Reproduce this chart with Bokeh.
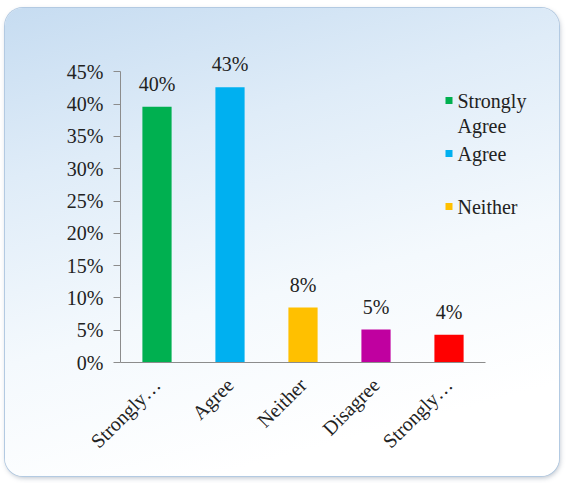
import math
from bokeh.plotting import figure
from bokeh.models import (ColumnDataSource, Range1d, FixedTicker, NumeralTickFormatter,
                          Label, BoxAnnotation)
from bokeh.core.properties import value
from bokeh.embed import file_html
from bokeh.resources import INLINE

categories = ["Strongly Agree", "Agree", "Neither", "Disagree", "Strongly Disagree"]
tick_labels = ["Strongly…", "Agree", "Neither", "Disagree", "Strongly…"]
values = [0.396, 0.426, 0.085, 0.051, 0.043]
value_labels = ["40%", "43%", "8%", "5%", "4%"]
colors = ["#00b050", "#00b0f0", "#ffc000", "#c000a0", "#ff0000"]
legend_lines = [["Strongly", "Agree"], ["Agree"], ["Neither"]]
y_ticks = [0.0, 0.05, 0.10, 0.15, 0.20, 0.25, 0.30, 0.35, 0.40, 0.45]

FONT = "Liberation Serif"
FS = "20px"

xpos = [i + 0.5 for i in range(len(categories))]
src = ColumnDataSource(dict(x=xpos, cat=categories, val=values, lab=value_labels, col=colors))

p = figure(x_range=Range1d(0, 5.945), y_range=Range1d(0, 0.5),
           width=554, height=468, output_backend="svg", toolbar_location=None,
           min_border_left=115, min_border_right=5, min_border_top=31, min_border_bottom=114)
p.styles = {
    "margin-left": "5px",
    "margin-top": "8px",
    "border-radius": "18px",
    "background": "linear-gradient(165deg, #c6dcf1 0%, #dfecf8 28%, #f4f9fd 58%, #ffffff 85%)",
    "box-shadow": "0 0 0 1px #b3cae2, 1px 2px 5px rgba(60,80,110,0.35)",
}
p.border_fill_alpha = 0
p.background_fill_alpha = 0
p.outline_line_color = None
p.xgrid.grid_line_color = None
p.ygrid.grid_line_color = None

r = p.vbar(x="x", top="val", width=0.4, fill_color="col", line_color=None, source=src)
p.text(x="x", y="val", text="lab", source=src, y_offset=-12, text_align="center",
       text_baseline="bottom", text_font=value(FONT), text_font_size=FS, text_color="#222222")

p.yaxis.ticker = FixedTicker(ticks=y_ticks)
p.yaxis.formatter = NumeralTickFormatter(format="0%")
p.yaxis.bounds = (y_ticks[0], y_ticks[-1])
p.yaxis.minor_tick_line_color = None
p.yaxis.major_tick_in = 0
p.yaxis.major_tick_out = 7
p.yaxis.major_label_standoff = 10
for ax in (p.xaxis, p.yaxis):
    ax.axis_line_color = "#8c8c8c"
    ax.major_tick_line_color = "#8c8c8c"
    ax.major_label_text_font = FONT
    ax.major_label_text_font_size = FS
    ax.major_label_text_color = "#222222"
p.xaxis.bounds = (0, len(categories))
p.xaxis.ticker = FixedTicker(ticks=xpos)
p.xaxis.major_label_overrides = {x: t for x, t in zip(xpos, tick_labels)}
p.xaxis.minor_tick_line_color = None
p.xaxis.major_tick_line_color = None
p.xaxis.major_label_orientation = math.pi / 4
p.xaxis.major_label_standoff = 13

# legend (frame-relative screen units, origin bottom-left of the plot frame)
leg_x, leg_top, item_h, line_h = 325, 262, 53, 25
for i, lines in enumerate(legend_lines):
    yc = leg_top - i * item_h
    p.add_layout(BoxAnnotation(left=leg_x, right=leg_x + 7, bottom=yc - 3.5, top=yc + 3.5,
                               left_units="screen", right_units="screen",
                               bottom_units="screen", top_units="screen",
                               fill_color=colors[i], fill_alpha=1, line_color=None))
    for j, t in enumerate(lines):
        p.add_layout(Label(x=leg_x + 12, y=yc - j * line_h, x_units="screen", y_units="screen",
                           text=t, text_font=FONT, text_font_size=FS, text_color="#222222",
                           text_baseline="middle", text_align="left"))

open("out.html", "w").write(file_html(p, INLINE))
